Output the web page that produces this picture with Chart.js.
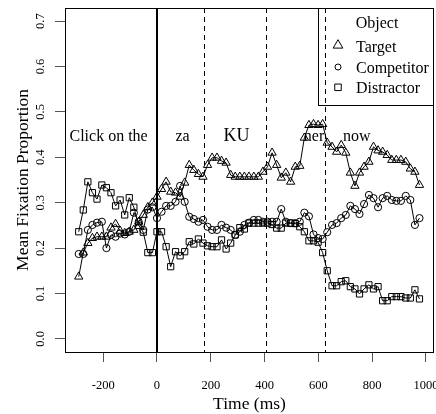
<!DOCTYPE html>
<html>
<head>
<meta charset="utf-8">
<script src="https://cdn.jsdelivr.net/npm/chart.js@4.4.1/dist/chart.umd.min.js"></script>
<style>
  html, body { margin: 0; padding: 0; background: #fff; }
  #wrap { width: 436px; height: 414px; }
</style>
</head>
<body>
<div id="wrap"><canvas id="chart" width="436" height="414"></canvas></div>
<script>
// time of each sample (ms from target onset)
const times = [
  -291, -274, -257, -240, -223, -205, -188, -171, -154, -137, -120, -103, -86, -68, -51, -34, -17,
  0, 17, 34, 51, 69, 86, 103, 120, 137, 154, 171, 188, 205, 223, 240, 257, 274, 291, 308, 325,
  342, 360, 377, 394, 411, 428, 445, 462, 479, 497, 514, 531, 548, 565, 582, 599, 616, 633, 651,
  668, 685, 702, 719, 736, 753, 770, 788, 805, 822, 839, 856, 873, 890, 907, 925, 942, 959, 976
];

const target = [
  0.137, 0.190, 0.211, 0.222, 0.225, 0.225, 0.225, 0.245, 0.253, 0.238, 0.233, 0.236, 0.240, 0.258, 0.273, 0.290, 0.300,
  0.313, 0.330, 0.346, 0.324, 0.322, 0.313, 0.344, 0.383, 0.372, 0.363, 0.357, 0.383, 0.399, 0.399, 0.392, 0.388, 0.361, 0.357, 0.357, 0.357,
  0.357, 0.357, 0.357, 0.368, 0.379, 0.410, 0.383, 0.355, 0.366, 0.346, 0.379, 0.381, 0.443, 0.471, 0.473, 0.471, 0.473, 0.432, 0.423,
  0.412, 0.427, 0.410, 0.366, 0.337, 0.366, 0.379, 0.390, 0.423, 0.415, 0.412, 0.405, 0.394, 0.394, 0.394, 0.390, 0.375, 0.368, 0.339
];

const competitor = [
  0.187, 0.187, 0.240, 0.251, 0.256, 0.258, 0.200, 0.229, 0.225, 0.232, 0.230, 0.236, 0.278, 0.258, 0.240, 0.285, 0.290,
  0.266, 0.280, 0.293, 0.293, 0.302, 0.337, 0.302, 0.269, 0.264, 0.258, 0.262, 0.247, 0.240, 0.240, 0.251, 0.245, 0.240, 0.229, 0.236, 0.251,
  0.256, 0.262, 0.262, 0.258, 0.258, 0.258, 0.258, 0.286, 0.258, 0.255, 0.255, 0.258, 0.278, 0.270, 0.230, 0.222, 0.220, 0.235, 0.251,
  0.255, 0.266, 0.273, 0.293, 0.286, 0.275, 0.297, 0.317, 0.310, 0.290, 0.310, 0.315, 0.306, 0.304, 0.304, 0.315, 0.306, 0.251, 0.266
];

const distractor = [
  0.236, 0.284, 0.346, 0.322, 0.308, 0.339, 0.333, 0.322, 0.293, 0.306, 0.273, 0.311, 0.290, 0.250, 0.235, 0.190, 0.190,
  0.236, 0.236, 0.203, 0.159, 0.192, 0.183, 0.192, 0.214, 0.209, 0.220, 0.211, 0.205, 0.203, 0.203, 0.218, 0.198, 0.211, 0.229, 0.245, 0.242,
  0.255, 0.255, 0.255, 0.255, 0.255, 0.252, 0.244, 0.244, 0.255, 0.255, 0.254, 0.247, 0.236, 0.216, 0.216, 0.213, 0.190, 0.150, 0.117,
  0.117, 0.126, 0.128, 0.115, 0.110, 0.099, 0.110, 0.119, 0.110, 0.115, 0.084, 0.084, 0.093, 0.093, 0.093, 0.090, 0.090, 0.108, 0.088
];

const seriesNames = ["Target", "Competitor", "Distractor"];
const legendTitle = "Object";

const xTicks = [-200, 0, 200, 400, 600, 800, 1000];
const yTicks = [0, 0.1, 0.2, 0.3, 0.4, 0.5, 0.6, 0.7];
const yTickLabels = ["0.0", "0.1", "0.2", "0.3", "0.4", "0.5", "0.6", "0.7"];

// word boundaries in the spoken sentence
const eventTimes = [0, 175, 405, 626];
const words = ["Click on the", "za", "KU", "ner", "now"];
const wordTimes = [-180, 95, 296, 584, 743];
const wordLevel = 0.436;

const xTitle = "Time (ms)";
const yTitle = "Mean Fixation Proportion";

const SERIF = '"Liberation Serif", "Times New Roman", serif';
const styles = [
  { pointStyle: "triangle", radius: 4.8, legendRadius: 5.6 },
  { pointStyle: "circle", radius: 3.6, legendRadius: 3.0 },
  { pointStyle: "rect", radius: 4.4, legendRadius: 4.6 }
];

function drawMarker(ctx, style, r, x, y) {
  ctx.beginPath();
  if (style === "triangle") {
    for (let k = 0; k < 3; k++) {
      const a = k * 2 * Math.PI / 3;
      const px = x + Math.sin(a) * r, py = y - Math.cos(a) * r;
      if (k) ctx.lineTo(px, py); else ctx.moveTo(px, py);
    }
    ctx.closePath();
  } else if (style === "circle") {
    ctx.arc(x, y, r, 0, 2 * Math.PI);
  } else {
    const s = r * Math.SQRT1_2;
    ctx.rect(x - s, y - s, 2 * s, 2 * s);
  }
  ctx.stroke();
}

// R-style extras: box, event lines, word labels, rotated y labels, legend
const rPlot = {
  id: "rPlot",
  afterDatasetsDraw(chart) {
    const { ctx, chartArea: ca, scales: { x, y } } = chart;
    ctx.save();
    ctx.beginPath();
    ctx.rect(ca.left, ca.top, ca.right - ca.left, ca.bottom - ca.top);
    ctx.clip();
    ctx.strokeStyle = "#000";
    eventTimes.forEach((t, k) => {
      const px = Math.round(x.getPixelForValue(t));
      ctx.beginPath();
      if (k === 0) { ctx.lineWidth = 2; ctx.setLineDash([]); }
      else { ctx.lineWidth = 1; ctx.setLineDash([5, 4]); }
      const off = k === 0 ? 0 : 0.5;
      ctx.moveTo(px + off, ca.top);
      ctx.lineTo(px + off, ca.bottom);
      ctx.stroke();
    });
    ctx.setLineDash([]);
    ctx.fillStyle = "#000";
    ctx.textAlign = "center";
    ctx.textBaseline = "alphabetic";
    words.forEach((w, k) => {
      ctx.font = (w === "KU" ? 18 : 16) + "px " + SERIF;
      ctx.fillText(w, x.getPixelForValue(wordTimes[k]), y.getPixelForValue(wordLevel));
    });
    ctx.restore();
  },
  afterDraw(chart) {
    const { ctx, chartArea: ca, scales: { y } } = chart;
    ctx.save();
    ctx.strokeStyle = "#000";
    ctx.lineWidth = 1;
    ctx.strokeRect(ca.left + 0.5, ca.top + 0.5, ca.right - ca.left - 1, ca.bottom - ca.top);

    // rotated y tick labels
    ctx.fillStyle = "#000";
    ctx.font = "12.5px " + SERIF;
    ctx.textAlign = "center";
    ctx.textBaseline = "middle";
    yTicks.forEach((v, k) => {
      ctx.save();
      ctx.translate(ca.left - 24, y.getPixelForValue(v));
      ctx.rotate(-Math.PI / 2);
      ctx.fillText(yTickLabels[k], 0, 0);
      ctx.restore();
    });

    // axis titles
    ctx.font = "17.5px " + SERIF;
    ctx.fillText(xTitle, (ca.left + ca.right) / 2, 404.5);
    ctx.save();
    ctx.translate(23, (ca.top + ca.bottom) / 2);
    ctx.rotate(-Math.PI / 2);
    ctx.fillText(yTitle, 0, 0);
    ctx.restore();

    // legend
    const lx = 318.5, ly = ca.top + 0.5, lw = ca.right - 0.5 - lx, lh = 97;
    ctx.strokeRect(lx, ly, lw, lh);
    ctx.font = "16px " + SERIF;
    ctx.fillText(legendTitle, 377, 23.5);
    ctx.textAlign = "left";
    seriesNames.forEach((name, k) => {
      const ty = 48 + 20.3 * k;
      ctx.fillText(name, 356, ty);
      const st = styles[k];
      const my = ty - 1.3 - (st.pointStyle === "triangle" ? st.legendRadius / 4 : 0);
      drawMarker(ctx, st.pointStyle, st.legendRadius, 338, my);
    });
    ctx.restore();
  }
};

const seriesValues = [target, competitor, distractor];
const datasets = seriesNames.map((name, k) => ({
  label: name,
  data: times.map((t, i) => ({ x: t, y: seriesValues[k][i] })),
  showLine: true,
  borderColor: "#000",
  borderWidth: 1,
  tension: 0,
  pointStyle: styles[k].pointStyle,
  pointRadius: styles[k].radius,
  pointBorderColor: "#000",
  pointBorderWidth: 1,
  pointBackgroundColor: "rgba(0,0,0,0)"
}));

new Chart(document.getElementById("chart"), {
  type: "scatter",
  data: { datasets },
  options: {
    responsive: false,
    animation: false,
    devicePixelRatio: 1,
    layout: { autoPadding: false, padding: { top: 8, right: 2, left: 0, bottom: 0 } },
    plugins: { legend: { display: false }, tooltip: { enabled: false } },
    scales: {
      x: {
        type: "linear",
        min: -342,
        max: 1030,
        afterBuildTicks: s => { s.ticks = xTicks.map(v => ({ value: v })); },
        afterFit: s => { s.height = 62; s.paddingLeft = 0; s.paddingRight = 0; },
        grid: { drawOnChartArea: false, drawTicks: true, tickLength: 10, color: "#555" },
        border: { display: false },
        ticks: {
          color: "#000",
          font: { family: SERIF, size: 12.5 },
          padding: 16,
          maxRotation: 0,
          autoSkip: false,
          callback: v => String(v)
        }
      },
      y: {
        min: -0.029,
        max: 0.729,
        afterBuildTicks: s => { s.ticks = yTicks.map(v => ({ value: v })); },
        afterFit: s => { s.width = 65; s.paddingTop = 0; s.paddingBottom = 0; },
        grid: { drawOnChartArea: false, drawTicks: true, tickLength: 10, color: "#555" },
        border: { display: false },
        ticks: { display: false }
      }
    }
  },
  plugins: [rPlot]
});
</script>
</body>
</html>
